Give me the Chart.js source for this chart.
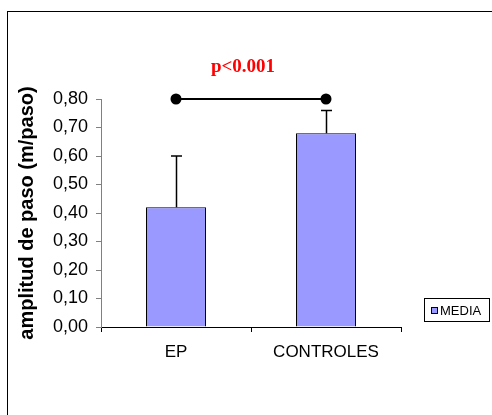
<!DOCTYPE html>
<html>
<head>
<meta charset="utf-8">
<script src="https://cdn.jsdelivr.net/npm/chart.js@4.4.0/dist/chart.umd.min.js"></script>
<style>
  html, body { margin: 0; padding: 0; background: #ffffff; }
  #c { display: block; }
</style>
</head>
<body>
<canvas id="c" width="492" height="415"></canvas>
<script>
// Step length by group: mean with upper standard-deviation whisker
const categories = ['EP', 'CONTROLES'];
const media = [0.42, 0.68];
const sdUpper = [0.18, 0.08];
// significance bracket drawn across both groups
const bracketLevel = [0.80, 0.80];
const pLabel = 'p<0.001';
const seriesName = 'MEDIA';
const yMin = 0, yMax = 0.8, yStep = 0.1;

const barFill = '#9999ff';

// whiskers above each bar, and the outer frame
const decorPlugin = {
  id: 'decor',
  beforeDraw(chart) {
    const ctx = chart.ctx;
    ctx.save();
    ctx.fillStyle = '#ffffff';
    ctx.fillRect(0, 0, chart.width, chart.height);
    ctx.restore();
  },
  afterDatasetsDraw(chart) {
    const ctx = chart.ctx;
    const x = chart.scales.x, y = chart.scales.y;
    const meta = chart.getDatasetMeta(0);
    ctx.save();
    ctx.strokeStyle = '#000000';
    ctx.lineWidth = 1.5;
    meta.data.forEach((bar, i) => {
      const cx = Math.round(bar.x) + 0.5;
      const top = y.getPixelForValue(media[i] + sdUpper[i]);
      const base = y.getPixelForValue(media[i]);
      ctx.beginPath();
      ctx.moveTo(cx, base);
      ctx.lineTo(cx, top);
      ctx.moveTo(cx - 5.5, top);
      ctx.lineTo(cx + 5.5, top);
      ctx.stroke();
    });
    ctx.restore();
  },
  afterDraw(chart) {
    const ctx = chart.ctx;
    const area = chart.chartArea;
    ctx.save();
    // p-value label
    ctx.fillStyle = '#ff0000';
    ctx.font = 'bold 19px "Liberation Serif", "Times New Roman", serif';
    ctx.textAlign = 'center';
    ctx.textBaseline = 'alphabetic';
    ctx.fillText(pLabel, (area.left + area.right) / 2 - 8, 72);

    // legend box
    const lx = area.right + 23, ly = area.bottom - 29, lw = 65, lh = 23;
    ctx.strokeStyle = '#000000';
    ctx.lineWidth = 1;
    ctx.strokeRect(lx + 0.5, ly + 0.5, lw, lh);
    ctx.fillStyle = barFill;
    ctx.fillRect(lx + 7.5, ly + 9.5, 6, 6);
    ctx.strokeRect(lx + 7.5, ly + 9.5, 6, 6);
    ctx.fillStyle = '#000000';
    ctx.font = '13px "Liberation Sans", Arial, sans-serif';
    ctx.textAlign = 'left';
    ctx.textBaseline = 'middle';
    ctx.fillText(seriesName, lx + 16, ly + 13);

    // outer frame
    ctx.strokeRect(7.5, 11.5, 700, 700);
    ctx.restore();
  }
};

new Chart(document.getElementById('c'), {
  data: {
    labels: categories,
    datasets: [
      {
        type: 'line',
        label: 'significancia',
        data: bracketLevel,
        borderColor: '#000000',
        backgroundColor: '#000000',
        borderWidth: 2,
        pointRadius: 4.5,
        pointHoverRadius: 4.5,
        clip: false,
        order: 0
      },
      {
        type: 'bar',
        label: seriesName,
        data: media,
        backgroundColor: barFill,
        borderColor: '#000000',
        borderWidth: 1,
        categoryPercentage: 1,
        barPercentage: 0.4,
        order: 1
      }
    ]
  },
  options: {
    responsive: false,
    animation: false,
    events: [],
    layout: { padding: { left: 7, top: 99, right: 91, bottom: 38 } },
    plugins: {
      legend: { display: false },
      tooltip: { enabled: false },
      title: { display: false }
    },
    scales: {
      x: {
        offset: true,
        afterFit(scale) { scale.height = 50; },
        grid: {
          offset: true,
          drawOnChartArea: false,
          drawTicks: true,
          tickLength: 5,
          color: '#000000'
        },
        border: { display: true, color: '#000000', width: 1 },
        ticks: {
          color: '#000000',
          padding: 10,
          font: { family: '"Liberation Sans", Arial, sans-serif', size: 17 }
        }
      },
      y: {
        min: yMin,
        max: yMax,
        afterFit(scale) { scale.width = 94; },
        grid: {
          drawOnChartArea: false,
          drawTicks: true,
          tickLength: 5,
          color: '#808080'
        },
        border: { display: true, color: '#808080', width: 1 },
        ticks: {
          stepSize: yStep,
          color: '#000000',
          padding: 8,
          font: { family: '"Liberation Sans", Arial, sans-serif', size: 18 },
          callback: (v) => Number(v).toFixed(2).replace('.', ',')
        },
        title: {
          display: true,
          text: 'amplitud de paso (m/paso)',
          color: '#000000',
          padding: { top: 8, bottom: 0 },
          font: { family: '"Liberation Sans", Arial, sans-serif', size: 20, weight: 'bold' }
        }
      }
    }
  },
  plugins: [decorPlugin]
});
</script>
</body>
</html>
